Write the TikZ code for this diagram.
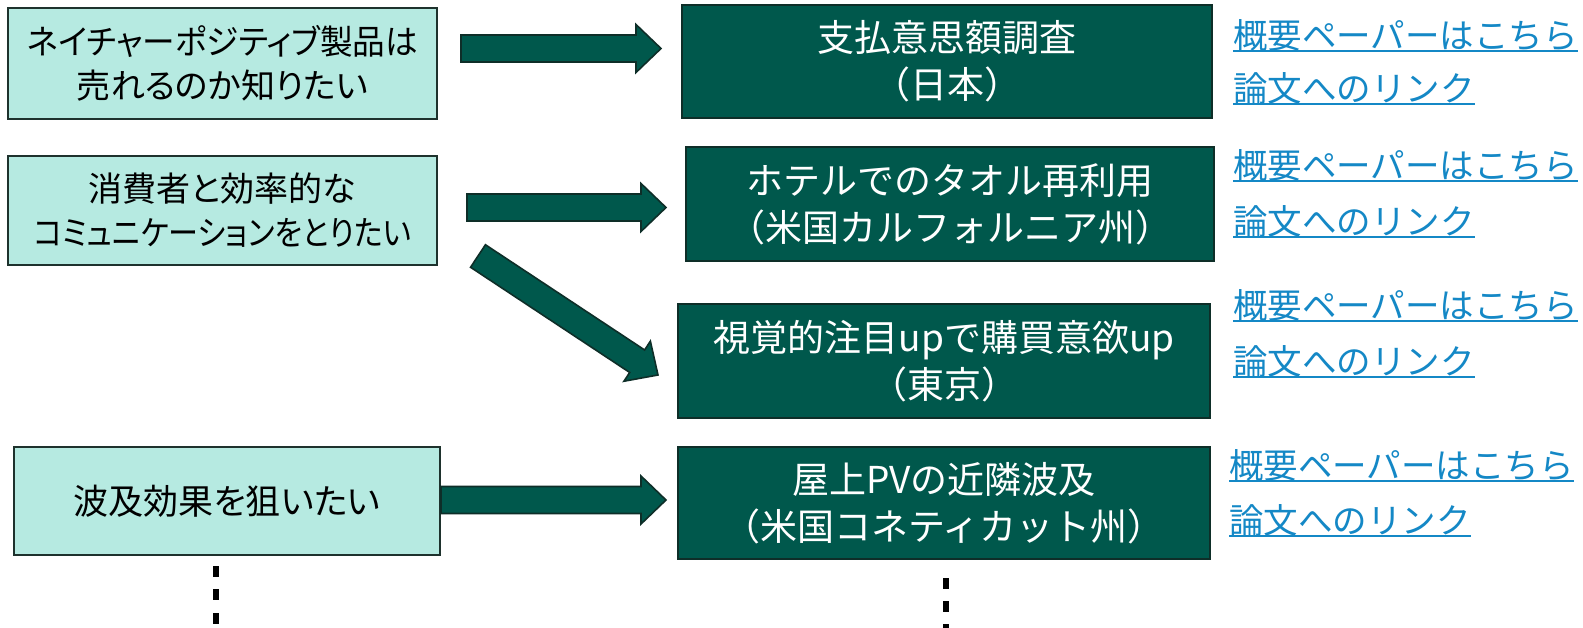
\documentclass[tikz,border=0pt]{standalone}
\usepackage{fontspec}
\newfontfamily\jpfont{Noto Sans CJK JP}
\newfontfamily\jppfont[RawFeature=+palt]{Noto Sans CJK JP}
\usetikzlibrary{calc}
\definecolor{darkfill}{RGB}{0,88,76}
\definecolor{darkline}{RGB}{14,46,40}
\definecolor{lightfill}{RGB}{182,234,225}
\definecolor{lightline}{RGB}{30,50,45}
\definecolor{linkblue}{RGB}{20,136,198}
\tikzset{
  need/.style={draw=lightline, line width=2pt, fill=lightfill, inner sep=0pt, align=center,
    font=\jppfont\fontsize{34}{44}\selectfont, text=black},
  study/.style={draw=darkline, line width=2.2pt, fill=darkfill, inner sep=0pt, align=center,
    font=\jpfont\fontsize{37}{47}\selectfont, text=white},
  linktext/.style={anchor=west, inner sep=0pt, font=\jpfont\fontsize{34.5}{40}\selectfont, text=linkblue},
  uline/.style={draw=linkblue, line width=2pt},
  fat/.style={draw=darkline, line width=1.6pt, fill=darkfill, line join=miter},
  vdot/.style={fill=black},
}
\newcommand\fatarrow[2]{%
  \coordinate (#1h) at ($(#2)!25pt!(#1)$);
  \path[fat] ($(#1)!13.5pt!90:(#2)$) -- ($(#1h)!13.5pt!90:(#2)$) -- ($(#1h)!24pt!90:(#2)$)
    -- (#2) -- ($(#1h)!24pt!-90:(#2)$) -- ($(#1h)!13.5pt!-90:(#2)$) -- ($(#1)!13.5pt!-90:(#2)$) -- cycle;
}
\newcommand\linkpair[4]{%
  \node[linktext] (#1a) at (#2,#3) {概要ペーパーはこちら};
  \draw[uline] ([yshift=-16pt]#1a.west) -- ([yshift=-16pt]#1a.east);
  \node[linktext] (#1b) at (#2,#4) {論文へのリンク};
  \draw[uline] ([yshift=-16pt]#1b.west) -- ([yshift=-16pt]#1b.east);
}
\begin{document}
\begin{tikzpicture}[x=1pt,y=-1pt]
\useasboundingbox[fill=white] (0,0) rectangle (1583,627);

% need boxes
\node[need, minimum width=429pt, minimum height=111pt] (n1) at (222.5,63.5)
  {\scalebox{0.96}[1]{ネイチャーポジティブ製品は}\\売れるのか知りたい};
\node[need, minimum width=429pt, minimum height=109pt] (n2) at (222.5,210.5)
  {消費者と効率的な\\\scalebox{0.885}[1]{コミュニケーションをとりたい}};
\node[need, minimum width=426pt, minimum height=108pt] (n3) at (227,501)
  {\fontsize{35}{44}\selectfont 波及効果を狙いたい};

% study boxes
\node[study, minimum width=530pt, minimum height=113pt] (s1) at (947,61.5)
  {支払意思額調査\\（日本）};
\node[study, minimum width=528pt, minimum height=114pt] (s2) at (950,204)
  {ホテルでのタオル再利用\\（米国カルフォルニア州）};
\node[study, minimum width=532pt, minimum height=114pt] (s3) at (944,361)
  {視覚的注目upで購買意欲up\\（東京）};
\node[study, minimum width=532pt, minimum height=112pt] (s4) at (944,503)
  {屋上PVの近隣波及\\（米国コネティカット州）};

% arrows
\coordinate (a1s) at (461,48.5);  \coordinate (a1e) at (661,48.5);
\coordinate (a2s) at (467,207.5); \coordinate (a2e) at (666,207.5);
\coordinate (a3s) at (478,256);   \coordinate (a3e) at (658,375);
\coordinate (a4s) at (441,500);   \coordinate (a4e) at (666,500);
\fatarrow{a1s}{a1e}
\fatarrow{a2s}{a2e}
\fatarrow{a3s}{a3e}
\fatarrow{a4s}{a4e}

% links
\linkpair{l1}{1233}{35}{88}
\linkpair{l2}{1233}{165}{221}
\linkpair{l3}{1233}{305}{361}
\linkpair{l4}{1229}{465}{520}

% vertical dots
\foreach \yy in {571,594,618} \fill[vdot] (213,\yy-5.5) rectangle (219,\yy+5.5);
\foreach \yy in {583,606,629} \fill[vdot] (943,\yy-5.5) rectangle (949,\yy+5.5);
\end{tikzpicture}
\end{document}
